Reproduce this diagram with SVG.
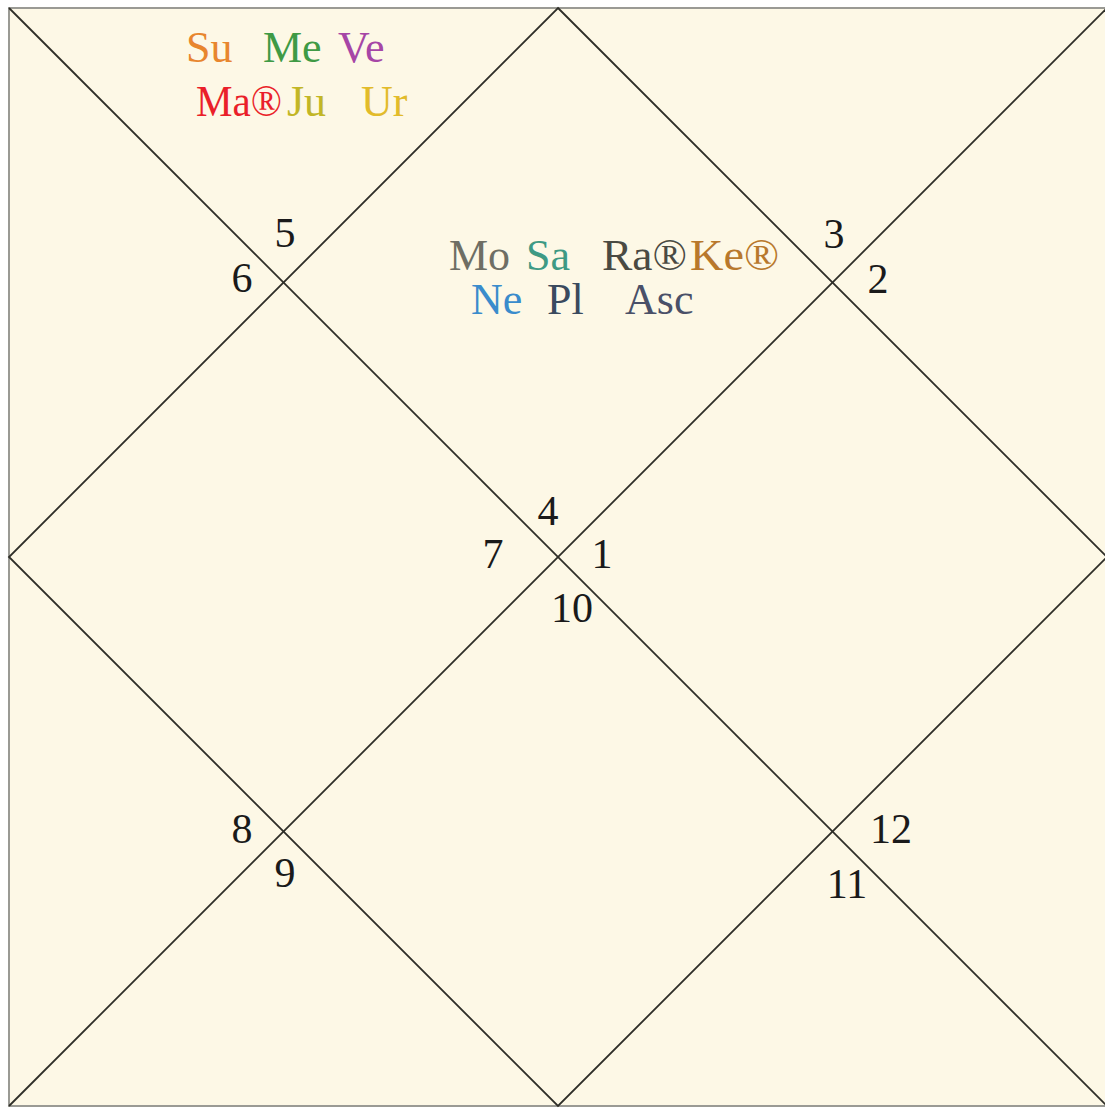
<svg xmlns="http://www.w3.org/2000/svg" width="1105" height="1108" viewBox="0 0 1105 1108">
<style>
.t{font-family:"Liberation Serif","Times New Roman",serif;font-size:44px}
.n{font-family:"Liberation Serif","Times New Roman",serif;font-size:42px;fill:#1a1a1a;text-anchor:middle}
.l{stroke:#2e2e28;stroke-width:1.8;fill:none}
</style>
<rect width="1105" height="1108" fill="#ffffff"/>
<g id="chart">
<rect id="frame" x="9" y="8" width="1098" height="1098" fill="#fdf8e6" stroke="#9a9a94" stroke-width="2"/>
</g>
<g id="connectors">
<line class="l" x1="9" y1="8" x2="1107" y2="1106"/>
<line class="l" x1="1107" y1="8" x2="9" y2="1106"/>
<polygon class="l" points="558,8 1107,557 558,1106 9,557"/>
</g>
<g id="house-numbers">
<text class="n" x="285" y="247">5</text>
<text class="n" x="242" y="292">6</text>
<text class="n" x="834" y="248">3</text>
<text class="n" x="878" y="293">2</text>
<text class="n" x="548" y="525">4</text>
<text class="n" x="493" y="568">7</text>
<text class="n" x="602" y="568">1</text>
<text class="n" x="572" y="622">10</text>
<text class="n" x="242" y="843">8</text>
<text class="n" x="285" y="887">9</text>
<text class="n" x="891" y="843">12</text>
<text class="n" x="847" y="898">11</text>
</g>
<g id="house5-planets">
<text class="t" x="186" y="62" fill="#e8862e">Su</text>
<text class="t" x="263" y="62" fill="#3f9a45">Me</text>
<text class="t" x="338" y="62" fill="#a646a6">Ve</text>
<text class="t" x="196" y="116" fill="#ea1f2a" textLength="86" lengthAdjust="spacingAndGlyphs">Ma®</text>
<text class="t" x="287" y="116" fill="#c2b626">Ju</text>
<text class="t" x="361" y="116" fill="#e2bb2a">Ur</text>
</g>
<g id="house4-planets">
<text class="t" x="449" y="270" fill="#6e6e64">Mo</text>
<text class="t" x="526" y="270" fill="#3e9a84">Sa</text>
<text class="t" x="602" y="270" fill="#4a4a42" textLength="85" lengthAdjust="spacingAndGlyphs">Ra®</text>
<text class="t" x="690" y="270" fill="#b8782c" textLength="89" lengthAdjust="spacingAndGlyphs">Ke®</text>
<text class="t" x="471" y="314" fill="#3a8ccc">Ne</text>
<text class="t" x="547" y="314" fill="#3a4a5e">Pl</text>
<text class="t" x="625" y="314" fill="#4a5068">Asc</text>
</g>
</svg>
